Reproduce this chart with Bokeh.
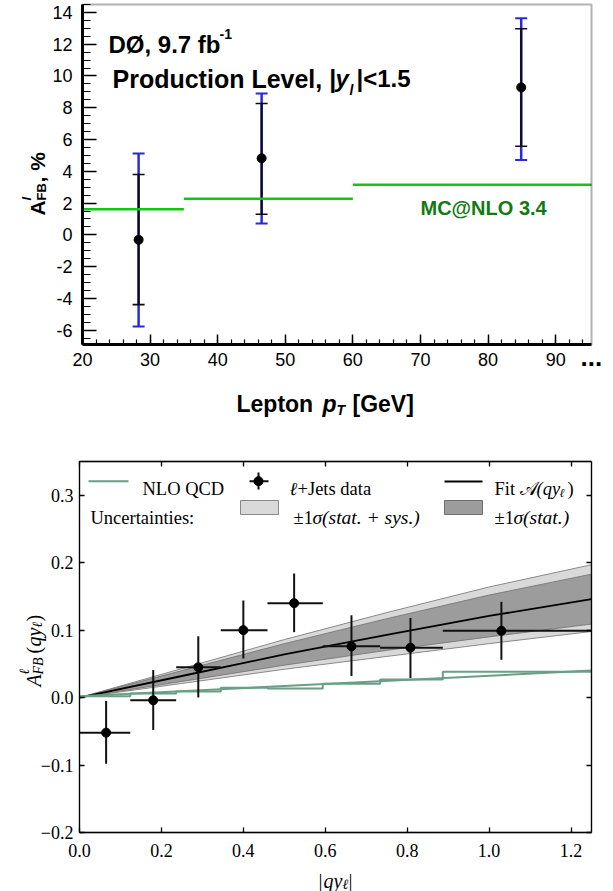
from math import pi
from bokeh.plotting import figure
from bokeh.layouts import column
from bokeh.models import (ColumnDataSource, Whisker, TeeHead, Label, FixedTicker,
                          LinearAxis, Range1d, BoxAnnotation, CustomLabelingPolicy)
from bokeh.embed import file_html
from bokeh.resources import INLINE

# ---------------- Top panel: D0 lepton A_FB vs lepton pT ----------------
pt_bin_centers = [28.3, 46.5, 84.9]
afb_pt = [-0.31, 4.82, 9.28]
afb_pt_stat_lo = [-4.39, 1.30, 5.58]
afb_pt_stat_hi = [3.80, 8.27, 12.97]
afb_pt_tot_lo = [-5.77, 0.71, 4.72]
afb_pt_tot_hi = [5.12, 8.90, 13.64]
mcnlo_bin_lo = [20, 35, 60]
mcnlo_bin_hi = [35, 60, 95.3]
mcnlo_afb = [1.61, 2.27, 3.15]
top_xticks = [20, 30, 40, 50, 60, 70, 80, 90]
top_xminor = [20, 22, 24, 26, 28, 30, 32, 34, 36, 38, 40, 42, 44, 46, 48, 50, 52, 54,
              56, 58, 60, 62, 64, 66, 68, 70, 72, 74, 76, 78, 80, 82, 84, 86, 88, 90, 92, 94]
top_yticks = [-6, -4, -2, 0, 2, 4, 6, 8, 10, 12, 14]
top_ytick_labels = ["-6", "-4", "-2", "0", "2", "4", "6", "8", "10", "12", "14"]
top_yminor = [-6.5, -6, -5.5, -5, -4.5, -4, -3.5, -3, -2.5, -2, -1.5, -1, -0.5, 0, 0.5, 1,
              1.5, 2, 2.5, 3, 3.5, 4, 4.5, 5, 5.5, 6, 6.5, 7, 7.5, 8, 8.5, 9, 9.5, 10, 10.5,
              11, 11.5, 12, 12.5, 13, 13.5, 14, 14.5]
top_xlim = (20, 95.3)
top_ylim = (-6.9, 14.5)

# ---------------- Bottom panel: A_FB vs |q y_l| ----------------
qy_centers = [0.065, 0.18, 0.29, 0.40, 0.524, 0.664, 0.808, 1.03]
qy_lo = [0.0, 0.124, 0.236, 0.345, 0.459, 0.594, 0.734, 0.887]
qy_hi = [0.124, 0.236, 0.345, 0.459, 0.594, 0.734, 0.887, 1.25]
afb_qy = [-0.052, -0.004, 0.045, 0.100, 0.140, 0.076, 0.074, 0.099]
afb_qy_lo = [-0.098, -0.048, 0.000, 0.058, 0.097, 0.032, 0.029, 0.056]
afb_qy_hi = [-0.005, 0.041, 0.091, 0.144, 0.184, 0.122, 0.118, 0.142]
nlo_edges = [0.0, 0.124, 0.236, 0.345, 0.459, 0.594, 0.734, 0.887, 1.25]
nlo_hist = [0.002, 0.006, 0.009, 0.0145, 0.0133, 0.0207, 0.027, 0.0383, 0.0383]
nlo_line_x = [0.0, 1.25]
nlo_line_y = [0.002, 0.040]
fit_x = [0.0, 0.25, 0.5, 0.75, 1.0, 1.25]
fit_y = [0.000, 0.032, 0.064, 0.093, 0.121, 0.146]
fit_stat_lo = [0.000, 0.024, 0.048, 0.070, 0.090, 0.109]
fit_stat_hi = [0.000, 0.040, 0.080, 0.117, 0.152, 0.183]
fit_tot_lo = [0.000, 0.021, 0.042, 0.061, 0.080, 0.098]
fit_tot_hi = [0.000, 0.043, 0.086, 0.126, 0.164, 0.197]
bot_xticks = [0.0, 0.2, 0.4, 0.6, 0.8, 1.0, 1.2]
bot_xtick_labels = ["0.0", "0.2", "0.4", "0.6", "0.8", "1.0", "1.2"]
bot_yticks = [-0.2, -0.1, 0.0, 0.1, 0.2, 0.3]
bot_ytick_labels = ["\u22120.2", "\u22120.1", "0.0", "0.1", "0.2", "0.3"]
bot_xlim = (0.0, 1.25)
bot_ylim = (-0.2, 0.35)

SANS = "Liberation Sans"
SERIF = "Liberation Serif"
W = 613


def make_panel(H, top_px, box, xlim, ylim):
    """Figure whose frame is the whole canvas; the plot box sits at pixel box=(l, t, r, b)."""
    l, t, r, b = box
    sx = (r - l) / (xlim[1] - xlim[0])
    sy = (b - t) / (ylim[1] - ylim[0])
    xr = Range1d(xlim[0] - l / sx, xlim[1] + (W - r) / sx)
    yr = Range1d(ylim[0] - (H - b) / sy, ylim[1] + t / sy)
    p = figure(width=W, height=H, x_range=xr, y_range=yr, output_backend="svg",
               toolbar_location=None, title=None, x_axis_location=None,
               y_axis_location=None, min_border=0, background_fill_color="white",
               border_fill_color="white", outline_line_color=None)
    p.grid.grid_line_color = None
    p._page_top = top_px
    return p


def add_text(p, text, X, Y, size, font, style="normal", color="black", angle=0.0):
    p.add_layout(Label(x=X, y=p.height - (Y - p._page_top), x_units="screen",
                       y_units="screen", text=text, text_font=font,
                       text_font_size=f"{size}px", text_font_style=style,
                       text_color=color, angle=angle, text_align="left",
                       text_baseline="alphabetic"))


# =============================== TOP ===============================
H1 = 425
p1 = make_panel(H1, 0, (82, 4, 591, 344), top_xlim, top_ylim)
p1.add_layout(BoxAnnotation(left=top_xlim[0], right=top_xlim[1], bottom=top_ylim[0],
                            top=top_ylim[1], fill_color=None, line_color="black",
                            line_width=2))
ax_l = LinearAxis(fixed_location=top_xlim[0], bounds=top_ylim,
                  ticker=FixedTicker(ticks=top_yticks, minor_ticks=top_yminor),
                  major_label_overrides=dict(zip(top_yticks, top_ytick_labels)))
ax_b = LinearAxis(fixed_location=top_ylim[0], bounds=top_xlim,
                  ticker=FixedTicker(ticks=top_xticks, minor_ticks=top_xminor))
p1.add_layout(ax_l, "left")
p1.add_layout(ax_b, "below")
for ax in (ax_l, ax_b):
    ax.axis_line_width = 3
    ax.axis_line_color = "black"
    ax.major_tick_out = 0
    ax.minor_tick_out = 0
    ax.major_tick_line_width = 1.5
    ax.minor_tick_line_width = 1.2
    ax.major_label_text_font = SANS
    ax.major_label_text_font_size = "18px"
    ax.major_label_text_color = "black"
ax_b.major_tick_in = 10
ax_b.minor_tick_in = 5
ax_l.major_tick_in = 14
ax_l.minor_tick_in = 8
ax_b.major_label_standoff = 8
ax_l.major_label_standoff = 10

# MC@NLO prediction
p1.segment(x0=mcnlo_bin_lo, x1=mcnlo_bin_hi, y0=mcnlo_afb, y1=mcnlo_afb,
           line_color="#10c810", line_width=2.5)

src_pt = ColumnDataSource(dict(x=pt_bin_centers, y=afb_pt,
                               slo=afb_pt_stat_lo, shi=afb_pt_stat_hi,
                               tlo=afb_pt_tot_lo, thi=afb_pt_tot_hi))
w_tot = Whisker(source=src_pt, base="x", lower="tlo", upper="thi", dimension="height",
                line_color="#2a2ad8", line_width=2.5,
                upper_head=TeeHead(size=12, line_color="#2a2ad8", line_width=2),
                lower_head=TeeHead(size=12, line_color="#2a2ad8", line_width=2))
w_stat = Whisker(source=src_pt, base="x", lower="slo", upper="shi", dimension="height",
                 line_color="#0a0a14", line_width=2,
                 upper_head=TeeHead(size=12, line_color="#0a0a14", line_width=1.6),
                 lower_head=TeeHead(size=12, line_color="#0a0a14", line_width=1.6))
p1.add_layout(w_tot)
p1.add_layout(w_stat)
p1.scatter(x="x", y="y", source=src_pt, size=9, fill_color="black", line_color="black")

add_text(p1, "D\u00d8, 9.7 fb", 108, 44, 24, SANS, "bold")
add_text(p1, "-1", 219, 33, 14, SANS, "bold")
add_text(p1, "Production Level, |", 112, 78, 25, SANS, "bold")
add_text(p1, "y", 335, 78, 24, SANS, "bold italic")
add_text(p1, "l", 349, 89, 14, SANS, "bold italic")
add_text(p1, "|<1.5", 356, 78, 24, SANS, "bold")
add_text(p1, "MC@NLO 3.4", 420, 207, 20, SANS, "bold", color="#137a13")
add_text(p1, "Lepton", 236, 403, 23, SANS, "bold")
add_text(p1, "p", 322, 403, 23, SANS, "bold italic")
add_text(p1, "T", 336, 409, 14, SANS, "bold italic")
add_text(p1, "[GeV]", 352, 403, 23, SANS, "bold")
add_text(p1, "...", 580, 356, 26, SANS, "bold")
add_text(p1, "A", 37, 215, 21, SANS, "bold", angle=pi / 2)
add_text(p1, "l", 26, 200, 13, SANS, "bold italic", angle=pi / 2)
add_text(p1, "FB", 41, 200, 13, SANS, "bold", angle=pi / 2)
add_text(p1, ", %", 37, 182, 21, SANS, "bold", angle=pi / 2)

# =============================== BOTTOM ===============================
H2 = 466
p2 = make_panel(H2, H1, (79, 461 - H1, 591, 832 - H1), bot_xlim, bot_ylim)
p2.add_layout(BoxAnnotation(left=bot_xlim[0], right=bot_xlim[1], bottom=bot_ylim[0],
                            top=bot_ylim[1], fill_color=None, line_color="black",
                            line_width=1.3))
xt = dict(ticks=bot_xticks, minor_ticks=[])
yt = dict(ticks=bot_yticks, minor_ticks=[])
b_left = LinearAxis(fixed_location=bot_xlim[0], bounds=bot_ylim, ticker=FixedTicker(**yt),
                    major_label_overrides=dict(zip(bot_yticks, bot_ytick_labels)))
b_right = LinearAxis(fixed_location=bot_xlim[1], bounds=bot_ylim, ticker=FixedTicker(**yt))
b_below = LinearAxis(fixed_location=bot_ylim[0], bounds=bot_xlim, ticker=FixedTicker(**xt),
                     major_label_overrides=dict(zip(bot_xticks, bot_xtick_labels)))
b_above = LinearAxis(fixed_location=bot_ylim[1], bounds=bot_xlim, ticker=FixedTicker(**xt))
p2.add_layout(b_left, "left")
p2.add_layout(b_right, "right")
p2.add_layout(b_below, "below")
p2.add_layout(b_above, "above")
for ax in (b_left, b_right, b_below, b_above):
    ax.axis_line_width = 1.3
    ax.axis_line_color = "black"
    ax.major_tick_in = 5
    ax.major_tick_out = 0
    ax.minor_tick_in = 0
    ax.minor_tick_out = 0
    ax.major_tick_line_width = 1.3
    ax.major_label_text_font = SERIF
    ax.major_label_text_font_size = "18px"
    ax.major_label_text_color = "black"
b_below.major_label_standoff = 11
b_left.major_label_standoff = 6
for ax in (b_right, b_above):
    ax.major_label_policy = CustomLabelingPolicy(code="return []")

# fit bands
p2.varea(x=fit_x, y1=fit_tot_lo, y2=fit_tot_hi, fill_color="#d9d9d9")
p2.line(fit_x, fit_tot_lo, line_color="#8a8a8a", line_width=1)
p2.line(fit_x, fit_tot_hi, line_color="#8a8a8a", line_width=1)
p2.varea(x=fit_x, y1=fit_stat_lo, y2=fit_stat_hi, fill_color="#9c9c9c")
p2.line(fit_x, fit_stat_lo, line_color="#6e6e6e", line_width=0.8)
p2.line(fit_x, fit_stat_hi, line_color="#6e6e6e", line_width=0.8)
p2.line(fit_x, fit_y, line_color="black", line_width=1.8)

# NLO QCD
GREEN = "#6a9e86"
p2.line(nlo_line_x, nlo_line_y, line_color=GREEN, line_width=2)
p2.step(nlo_edges, nlo_hist, mode="after", line_color=GREEN, line_width=2)

# data
p2.segment(x0=qy_lo, x1=qy_hi, y0=afb_qy, y1=afb_qy, line_color="#111111", line_width=2)
p2.segment(x0=qy_centers, x1=qy_centers, y0=afb_qy_lo, y1=afb_qy_hi,
           line_color="#111111", line_width=2)
p2.scatter(qy_centers, afb_qy, size=9, fill_color="black", line_color="black")


# legend swatches (page pixel -> data)
def dx(X):
    return (X - 79) * 1.25 / 512


def dy(Y):
    return 0.35 - (Y - 461) * 0.55 / 371


p2.line([dx(88), dx(128)], [dy(480.7), dy(480.7)], line_color=GREEN, line_width=2)
p2.segment(x0=[dx(249)], x1=[dx(268)], y0=[dy(480.7)], y1=[dy(480.7)],
           line_color="#111111", line_width=2)
p2.segment(x0=[dx(258)], x1=[dx(258)], y0=[dy(472)], y1=[dy(489)],
           line_color="#111111", line_width=2)
p2.scatter([dx(258)], [dy(480.7)], size=9, fill_color="black", line_color="black")
p2.line([dx(444), dx(482)], [dy(481), dy(481)], line_color="black", line_width=1.8)
p2.quad(left=[dx(240)], right=[dx(278)], top=[dy(500)], bottom=[dy(514)],
        fill_color="#d9d9d9", line_color="#888888", line_width=1)
p2.quad(left=[dx(444)], right=[dx(482)], top=[dy(500)], bottom=[dy(514)],
        fill_color="#9c9c9c", line_color="#6e6e6e", line_width=1)

LS = 18.5
add_text(p2, "NLO QCD", 142, 488, LS, SERIF)
add_text(p2, "\u2113", 289, 488, LS, SERIF, "italic")
add_text(p2, "+Jets data", 297, 488, LS, SERIF)
add_text(p2, "Fit", 494, 488, LS, SERIF)
add_text(p2, "\U0001D49C", 519, 488, LS, SERIF)
add_text(p2, "(qy", 536, 488, LS, SERIF, "italic")
add_text(p2, "\u2113", 559, 492, 12, SERIF, "italic")
add_text(p2, ")", 567, 488, LS, SERIF)
add_text(p2, "Uncertainties:", 90, 517, LS, SERIF)
add_text(p2, "\u00b11", 293, 517, LS, SERIF)
add_text(p2, "\u03c3(stat. + sys.)", 312, 517, 19.5, SERIF, "italic")
add_text(p2, "\u00b11", 494, 517, LS, SERIF)
add_text(p2, "\u03c3(stat.)", 513, 517, 19.5, SERIF, "italic")

# axis labels
add_text(p2, "|", 318, 880, 20, SERIF)
add_text(p2, "qy", 323, 880, 20, SERIF, "italic")
add_text(p2, "\u2113", 342, 884, 14, SERIF, "italic")
add_text(p2, "|", 348, 880, 20, SERIF)

add_text(p2, "A", 33, 686, 20, SERIF, "italic", angle=pi / 2)
add_text(p2, "\u2113", 24, 674, 14, SERIF, "italic", angle=pi / 2)
add_text(p2, "FB", 38, 674, 14, SERIF, "italic", angle=pi / 2)
add_text(p2, "(", 33, 653, 20, SERIF, angle=pi / 2)
add_text(p2, "qy", 33, 646, 20, SERIF, "italic", angle=pi / 2)
add_text(p2, "\u2113", 37, 627, 14, SERIF, "italic", angle=pi / 2)
add_text(p2, ")", 33, 621, 20, SERIF, angle=pi / 2)

layout = column(p1, p2)
open("out.html", "w").write(file_html(layout, INLINE))
